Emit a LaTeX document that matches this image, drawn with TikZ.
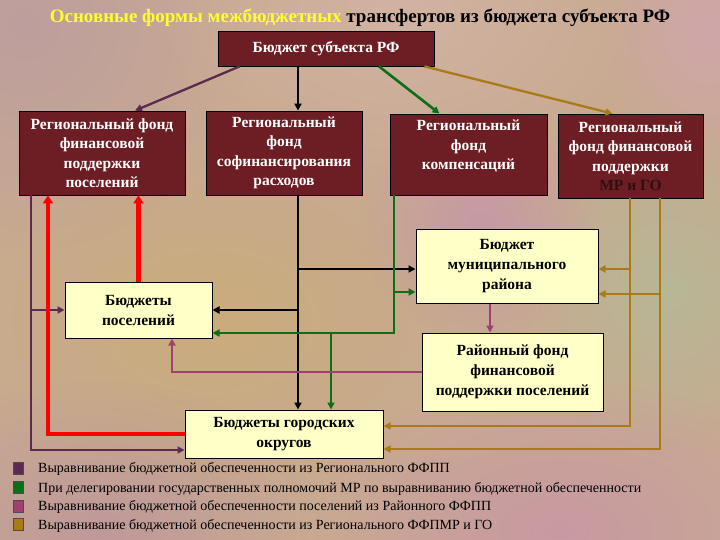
\documentclass[tikz,border=0pt]{standalone}
\usepackage{fontspec}
\setmainfont{Liberation Serif}
\usetikzlibrary{arrows.meta,fadings,calc}
\definecolor{maroonbox}{RGB}{108,30,36}
\definecolor{lyel}{RGB}{255,255,200}
\definecolor{cpur}{RGB}{92,42,78}
\definecolor{cgrn}{RGB}{12,110,22}
\definecolor{cmag}{RGB}{160,64,110}
\definecolor{cgold}{RGB}{168,122,24}
\definecolor{ttlyel}{RGB}{255,255,40}
\definecolor{darkmr}{RGB}{50,14,16}
\definecolor{bgbase}{RGB}{200,170,145}
\tikzfading[name=softblob, inner color=transparent!15, outer color=transparent!100]
\tikzset{
  fund/.style={draw=black, line width=0.8pt, fill=maroonbox, text=white, inner sep=0pt,
    font=\bfseries\fontsize{15.5}{19.5}\selectfont, align=center},
  ybox/.style={draw=black, line width=1pt, fill=lyel, text=black, inner sep=0pt,
    font=\bfseries\fontsize{15.5}{20}\selectfont, align=center},
  arr/.style={-{Triangle[length=7pt,width=7pt]}},
  blk/.style={draw=black, line width=2.6pt},
  grn/.style={draw=cgrn, line width=2.6pt},
  pur/.style={draw=cpur, line width=2.3pt},
  mag/.style={draw=cmag, line width=2.3pt},
  gld/.style={draw=cgold, line width=2.3pt},
  redl/.style={draw=red, line width=4.5pt, -{Triangle[length=8pt,width=10pt]}},
  legsq/.style={draw=black!70, line width=0.5pt, minimum width=10pt, minimum height=12pt, inner sep=0pt},
  legtxt/.style={anchor=west, inner sep=0pt, font=\fontsize{14}{15}\selectfont},
  blob/.style={path fading=softblob},
}
\begin{document}
\begin{tikzpicture}[x=1pt,y=-1pt]
\useasboundingbox (0,0) rectangle (720,540);
% background
\fill[bgbase] (0,0) rectangle (720,540);
\fill[blob, color={rgb,255:red,188;green,156;blue,160}] (-200,-200) rectangle (250,250);
\fill[blob, color={rgb,255:red,212;green,180;blue,165}] (150,-150) rectangle (650,180);
\fill[blob, color={rgb,255:red,202;green,172;blue,120}] (-50,140) rectangle (470,500);
\fill[blob, color={rgb,255:red,180;green,186;blue,150}] (520,120) rectangle (820,460);
\fill[blob, color={rgb,255:red,198;green,150;blue,168}] (360,110) rectangle (600,340);
\fill[blob, color={rgb,255:red,200;green,150;blue,166}] (300,380) rectangle (820,680);
\fill[blob, color={rgb,255:red,190;green,150;blue,155}] (-120,380) rectangle (320,680);
\fill[blob, color={rgb,255:red,210;green,165;blue,175}] (600,-100) rectangle (820,160);

% title
\node[inner sep=0pt, font=\bfseries\fontsize{19}{22}\selectfont] (title) at (360,18)
  {\textcolor{ttlyel}{Основные формы межбюджетных} трансфертов из бюджета субъекта РФ};

% boxes
\node[fund, minimum width=216, minimum height=35] (top) at (326,48.5) {Бюджет субъекта РФ};
\node[fund, minimum width=166, minimum height=84] (f1) at (102,153)
  {Региональный фонд\\финансовой\\поддержки\\поселений};
\node[fund, minimum width=156, minimum height=84] (f2) at (284,153)
  {Региональный\\фонд\\софинансирования\\расходов};
\node[fund, minimum width=157, minimum height=81] (f3) at (468.5,154.5)
  {Региональный\\фонд\\компенсаций\\\mbox{}};
\node[fund, minimum width=145, minimum height=84] (f4) at (630.5,156)
  {Региональный\\фонд финансовой\\поддержки\\\textcolor{darkmr}{МР и ГО}};

\node[ybox, minimum width=147, minimum height=56] (bp) at (138.5,310) {Бюджеты\\поселений};
\node[ybox, minimum width=182, minimum height=73] (bmr) at (507,266.5) {Бюджет\\муниципального\\района};
\node[ybox, minimum width=181, minimum height=78] (rf) at (512.5,372) {Районный фонд\\финансовой\\поддержки поселений};
\node[ybox, minimum width=198, minimum height=48] (bgo) at (284,434) {Бюджеты городских\\округов};

% helper coordinates
\coordinate (xp) at (31,0);
\coordinate (xr) at (48,0);
\coordinate (xb) at (298,0);
\coordinate (xg) at (394,0);
\coordinate (xg2) at (331,0);
\coordinate (xm) at (490,0);
\coordinate (xm2) at (172,0);
\coordinate (xo1) at (630,0);
\coordinate (xo2) at (660,0);
\coordinate (y269) at (0,269);
\coordinate (y292) at (0,292);
\coordinate (y294) at (0,294);
\coordinate (y333) at (0,333);
\coordinate (y426) at (0,426);
\coordinate (y449) at (0,449);
\coordinate (y450) at (0,450);

% top arrows
\draw[pur,arr] ($(top.south west)+(22,0)$) -- ($(f1.north)+(33,0)$);
\draw[blk,arr] (xb |- top.south) -- (xb |- f2.north);
\draw[grn,arr] ($(top.south)+(53,0)$) -- ($(f3.north)+(-29,0)$);
\draw[gld,arr] ($(top.south east)+(-10,0)$) -- ($(f4.north)+(-18,0)$);

% purple
\draw[pur,arr] (xp |- f1.south) |- (bgo.west |- y450);
\draw[pur,arr] (xp |- bp.west) -- (bp.west);

% red
\draw[redl] (bgo.west) -| (xr |- f1.south);
\draw[redl] (bp.north) -- (bp.north |- f1.south);

% black
\draw[blk,arr] (xb |- f2.south) -- (xb |- bgo.north);
\draw[blk,arr] (xb |- y269) -- (bmr.west |- y269);
\draw[blk,arr] (xb |- bp.east) -- (bp.east);

% green
\draw[grn,arr] (xg |- f3.south) |- (bp.east |- y333);
\draw[grn,arr] (xg |- y292) -- (bmr.west |- y292);
\draw[grn,arr] (xg2 |- y333) -- (xg2 |- bgo.north);

% magenta
\draw[mag,arr] (xm |- bmr.south) -- (xm |- rf.north);
\draw[mag,arr] (rf.west) -| (xm2 |- bp.south);

% gold
\draw[gld,arr] (xo1 |- f4.south) |- (bgo.east |- y426);
\draw[gld,arr] (xo1 |- y269) -- (bmr.east |- y269);
\draw[gld,arr] (xo2 |- f4.south) |- (bgo.east |- y449);
\draw[gld,arr] (xo2 |- y294) -- (bmr.east |- y294);

% legend
\node[legsq, fill=cpur] (s1) at (18,468) {};
\node[legsq, fill=cgrn] (s2) at (18,487) {};
\node[legsq, fill=cmag] (s3) at (18,506) {};
\node[legsq, fill=cgold] (s4) at (18,524) {};
\node[legtxt] (t1) at (38,469) {Выравнивание бюджетной обеспеченности из Регионального ФФПП};
\node[legtxt] (t2) at (38,489) {При делегировании государственных полномочий МР по выравниванию бюджетной обеспеченности};
\node[legtxt] (t3) at (38,507) {Выравнивание бюджетной обеспеченности поселений из Районного ФФПП};
\node[legtxt] (t4) at (38,526) {Выравнивание бюджетной обеспеченности из Регионального ФФПМР и ГО};
\end{tikzpicture}
\end{document}
